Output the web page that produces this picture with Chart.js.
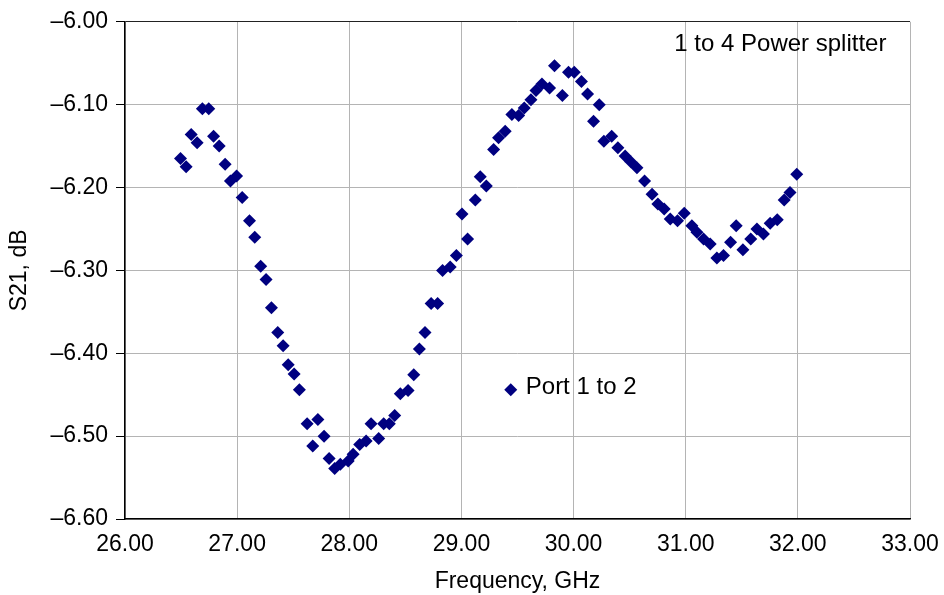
<!DOCTYPE html>
<html lang="en">
<head>
    <meta charset="UTF-8">
    <title>S21 Port 1 to 2</title>
    <script src="https://cdn.jsdelivr.net/npm/chart.js"></script>
    <style>
        body { margin: 0; background: #fff; }
        .chart-box { width: 944px; height: 595px; position: relative; }
    </style>
</head>
<body>
<div class="chart-box">
    <canvas id="s21Chart"></canvas>
</div>
<script>
// measured S21, port 1 to 2
const freq = [26.495, 26.545, 26.59, 26.643, 26.69, 26.747, 26.79, 26.84, 26.893, 26.94,
    26.995, 27.045, 27.11, 27.157, 27.21, 27.258, 27.306, 27.362, 27.41, 27.455,
    27.508, 27.555, 27.624, 27.674, 27.72, 27.775, 27.82, 27.87, 27.92, 27.99,
    28.034, 28.093, 28.15, 28.194, 28.262, 28.307, 28.357, 28.405, 28.455, 28.524,
    28.575, 28.625, 28.675, 28.73, 28.788, 28.832, 28.90, 28.955, 29.005, 29.055,
    29.124, 29.168, 29.222, 29.287, 29.331, 29.39, 29.45, 29.51, 29.56, 29.62,
    29.665, 29.718, 29.786, 29.83, 29.90, 29.955, 30.006, 30.07, 30.125, 30.178,
    30.229, 30.27, 30.34, 30.395, 30.46, 30.51, 30.565, 30.633, 30.70, 30.752,
    30.808, 30.862, 30.927, 30.987, 31.055, 31.10, 31.159, 31.218, 31.278, 31.337,
    31.40, 31.45, 31.51, 31.58, 31.635, 31.693, 31.753, 31.816, 31.878, 31.93,
    31.99];
const s21 = [-6.165, -6.175, -6.136, -6.146, -6.105, -6.105, -6.138, -6.150, -6.172, -6.192,
    -6.186, -6.212, -6.240, -6.260, -6.295, -6.311, -6.345, -6.375, -6.391, -6.414,
    -6.425, -6.444, -6.485, -6.512, -6.480, -6.500, -6.527, -6.539, -6.534, -6.530,
    -6.522, -6.510, -6.506, -6.485, -6.503, -6.485, -6.485, -6.475, -6.449, -6.445,
    -6.426, -6.395, -6.375, -6.340, -6.340, -6.300, -6.296, -6.282, -6.232, -6.262,
    -6.215, -6.187, -6.198, -6.154, -6.140, -6.132, -6.112, -6.113, -6.104, -6.094,
    -6.083, -6.075, -6.080, -6.053, -6.089, -6.061, -6.061, -6.072, -6.087, -6.120,
    -6.100, -6.144, -6.138, -6.152, -6.162, -6.169, -6.176, -6.192, -6.208, -6.220,
    -6.226, -6.238, -6.240, -6.231, -6.246, -6.254, -6.262, -6.268, -6.285, -6.282,
    -6.266, -6.246, -6.275, -6.262, -6.250, -6.256, -6.243, -6.239, -6.215, -6.206,
    -6.184];

const seriesLabel = 'Port 1 to 2';
const noteText = '1 to 4 Power splitter';
const xRange = [26, 33];
const yRange = [-6.6, -6.0];

const navy = '#000080';
const font = 'Liberation Sans, Arial, sans-serif';

function fmt(v) {
    // the source prints a long dash for the minus sign
    return v.toFixed(2).replace('-', '\u2013');
}

// legend + text note sit inside the plot, so draw them by hand
const insideText = {
    id: 'insideText',
    afterDraw(chart) {
        const ctx = chart.ctx;
        const xs = chart.scales.x, ys = chart.scales.y;
        ctx.save();
        ctx.fillStyle = '#000';
        ctx.font = '24px ' + font;
        ctx.textBaseline = 'middle';

        ctx.textAlign = 'right';
        ctx.fillText(noteText, xs.getPixelForValue(32.79), ys.getPixelForValue(-6.027));

        const lx = xs.getPixelForValue(29.44), ly = ys.getPixelForValue(-6.444);
        ctx.fillStyle = navy;
        ctx.beginPath();
        ctx.moveTo(lx, ly - 6.5);
        ctx.lineTo(lx + 6.5, ly);
        ctx.lineTo(lx, ly + 6.5);
        ctx.lineTo(lx - 6.5, ly);
        ctx.closePath();
        ctx.fill();

        ctx.fillStyle = '#000';
        ctx.textAlign = 'left';
        ctx.fillText(seriesLabel, lx + 15, ly - 2);
        ctx.restore();
    }
};

const ctx = document.getElementById('s21Chart').getContext('2d');
new Chart(ctx, {
    type: 'scatter',
    data: {
        datasets: [{
            label: seriesLabel,
            data: freq.map((f, i) => ({ x: f, y: s21[i] })),
            pointStyle: 'rectRot',
            pointRadius: 6.5,
            pointHoverRadius: 6.5,
            backgroundColor: navy,
            borderColor: navy,
            borderWidth: 0
        }]
    },
    options: {
        responsive: true,
        maintainAspectRatio: false,
        animation: false,
        layout: { padding: { top: 19, right: 34, left: 0, bottom: 0 } },
        plugins: {
            legend: { display: false },
            tooltip: { enabled: false }
        },
        scales: {
            x: {
                type: 'linear',
                min: xRange[0],
                max: xRange[1],
                afterFit: s => {
                    s.height = 76;
                    s.paddingRight = 20;
                    s.paddingLeft = 0;
                },
                ticks: {
                    stepSize: 1,
                    color: '#000',
                    padding: 12,
                    font: { family: font, size: 23 },
                    callback: v => fmt(v)
                },
                grid: { color: '#b4b4b4', lineWidth: 1, drawTicks: false },
                border: { color: '#000', width: 1.5 },
                title: {
                    display: true,
                    text: 'Frequency, GHz',
                    color: '#000',
                    font: { family: font, size: 23 },
                    padding: { top: 0, bottom: 0 }
                }
            },
            y: {
                min: yRange[0],
                max: yRange[1],
                afterFit: s => { s.width = 125; },
                ticks: {
                    stepSize: 0.1,
                    color: '#000',
                    padding: 8,
                    font: { family: font, size: 23 },
                    callback: v => fmt(v)
                },
                grid: {
                    color: c => (c.tick && Math.abs(c.tick.value - yRange[1]) < 1e-6) ? '#222' : '#b4b4b4',
                    tickColor: '#000',
                    tickLength: 9,
                    lineWidth: 1
                },
                border: { color: '#000', width: 1.5 },
                title: {
                    display: true,
                    text: 'S21, dB',
                    color: '#000',
                    font: { family: font, size: 23 },
                    padding: { top: 6, bottom: 0 }
                }
            }
        }
    },
    plugins: [insideText]
});
</script>
</body>
</html>
